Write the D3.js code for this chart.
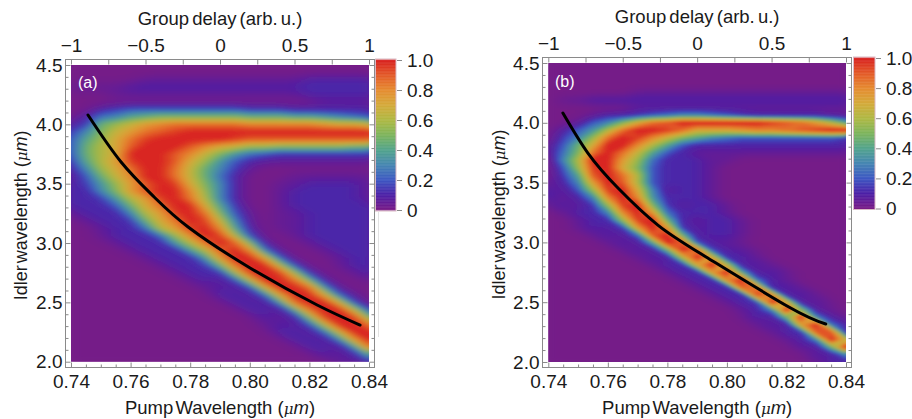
<!DOCTYPE html>
<html>
<head>
<meta charset="utf-8">
<script src="https://cdn.jsdelivr.net/npm/d3@7"></script>
<style>
  html, body { margin: 0; background: #fff; }
  text { font-family: "Liberation Sans", Arial, sans-serif; fill: #1a1a1a; }
</style>
</head>
<body>
<div id="wrapper"></div>
<script>
// tick values
const pumpTicks = [0.74, 0.76, 0.78, 0.80, 0.82, 0.84]
const pumpMinor = [0.745, 0.75, 0.755, 0.765, 0.77, 0.775, 0.785, 0.79, 0.795, 0.805, 0.81, 0.815, 0.825, 0.83, 0.835]
const idlerTicks = [2.0, 2.5, 3.0, 3.5, 4.0, 4.5]
const idlerMinor = [2.1, 2.2, 2.3, 2.4, 2.6, 2.7, 2.8, 2.9, 3.1, 3.2, 3.3, 3.4, 3.6, 3.7, 3.8, 3.9, 4.1, 4.2, 4.3, 4.4]
const delayTicks = [-1, -0.5, 0, 0.5, 1]
const delayMinor = [-0.75, -0.25, 0.25, 0.75]
const barTicks = [0, 0.2, 0.4, 0.6, 0.8, 1.0]

// colour bar stops, 0 to 1 in steps of 0.1
const rainbow = ["#7a1b85", "#4c1fa6", "#3d57c2", "#4585b2", "#52a38c", "#7cb45c", "#aeb843", "#d4aa3a", "#e58b30", "#e35a28", "#d8211f"]

// phase matching curves, pump (um) and idler (um)
const curvePumpA = [0.7457, 0.7568, 0.7679, 0.7793, 0.8001, 0.8226, 0.8370]
const curveIdlerA = [4.079, 3.683, 3.388, 3.135, 2.790, 2.478, 2.309]
const curvePumpB = [0.7449, 0.7533, 0.7634, 0.7768, 0.7930, 0.8208, 0.8332]
const curveIdlerB = [4.082, 3.747, 3.455, 3.145, 2.878, 2.460, 2.318]

// intensity, in tenths. rows run from idler 4.5 down to 2.0,
// columns from pump 0.74 to 0.84 in steps of 0.005
const heatA = [
  [0,0,0,0,0,0,0,0,0,0,0,0,0,0,0,0,0,0,0,0,0],
  [0,0,0,0,0,0,0,0,0,0,0,0,0,0,0,0,0,0,0,0,0],
  [0,0,0,0,0,.5,.5,.5,.5,.5,.5,.5,.5,.5,.5,.5,1,1,1,1,1],
  [.5,.5,.5,.5,1,1,1,1,1,1,1,1,1,1,1,1,1,1,1,1,1],
  [0,0,0,.5,.5,.5,.5,.5,.5,.5,.5,.5,.5,.5,.5,.5,1,1,1,1,1],
  [0,0,0,0,0,0,0,0,0,0,0,0,0,0,0,0,0,.5,.5,.5,.5],
  [0,0,1,1.5,2,2,2,2,2,2,2,2,1.5,1.5,1.5,1,1,1,1,1,1],
  [0,1,2.5,3,4,4.5,5,5,5,5,5,5,4.5,4.5,4.5,4,4,3.5,3,2.5,2],
  [1,1.5,4.5,5.5,6.5,7.5,8,8.5,8.5,8.5,8.5,8.5,8,8,8,8,8,7.5,7,7,6.5],
  [1.5,3,5,6.5,7.5,8.5,9,9.5,10,10,10,10,10,10,10,10,10,10,10,10,10],
  [2,4,5.5,7,8.5,9.5,10,10,10,10,10,9.5,9,9,9,9,9,9,9,9,9],
  [2,4.5,6,7,9,10,10,10,9,8,7,6.5,5.5,5.5,5,5,5,5,5,4.5,4.5],
  [2,4.5,6,7,10,10,10,9,8,6.5,5,3.5,2.5,2,1.5,1.5,1.5,1.5,1.5,1.5,1.5],
  [1.5,4,6,7.5,9.5,10,10,9,7,5.5,3.5,2,1,.5,.5,.5,.5,.5,.5,.5,.5],
  [1,3,5.5,7,8.5,10,10,8.5,6.5,4.5,3,1.5,.5,0,0,0,0,0,0,0,0],
  [.5,2,4.5,6.5,8,10,10,8.5,6.5,4.5,2.5,1,0,0,0,.5,.5,.5,.5,.5,.5],
  [1,1.5,3.5,5.5,7.5,9,10,9.5,7,5,3,1,0,0,.5,.5,1,1,1,1,.5],
  [1,1,3,5,7.5,9,10,10,8,5.5,3,1,0,0,.5,1,1,1,1,1,.5],
  [1,1,1.5,3.5,6,7.5,9.5,10,8.5,6,3,1,0,0,.5,1,1,1,1,1,.5],
  [1,1,1,2,4.5,7,8.5,10,10,7,4,1.5,0,0,.5,1,1,1,1,1,1],
  [.5,1,1,1,3,6,7.5,9.5,10,8.5,5,2,.5,0,.5,.5,1,1,1,1,1],
  [0,.5,1,1,1.5,4.5,7,8.5,10,9.5,6.5,3,.5,0,.5,.5,1,1,1,1,1],
  [0,0,.5,1,1,2.5,6,7.5,9.5,10,8,4,1,0,.5,.5,1,1,1,1,1],
  [0,0,.5,1,1,1,2.5,5.5,8,10,9.5,6,2,0,0,.5,1,1,1,1,1],
  [0,0,0,.5,1,1,1,3.5,6,8.5,10,9,5,1,0,0,.5,1,1,1,1],
  [0,0,0,0,.5,1,1,1,3.5,6,9,10,8,3,.5,0,0,.5,1,1,1],
  [0,0,0,0,0,.5,1,1,1,3.5,7.5,10,10,7,2.5,0,0,0,.5,1,1],
  [0,0,0,0,0,0,.5,1,1,1.5,4.5,8.5,10,10,6,2,0,0,.5,1,1],
  [0,0,0,0,0,0,0,.5,1,1,1.5,5.5,9.5,10,9.5,5.5,1.5,0,0,.5,1],
  [0,0,0,0,0,0,0,0,.5,1,.5,2,6,10,10,8.5,4.5,1,0,0,.5],
  [0,0,0,0,0,0,0,0,0,.5,1,.5,2,6.5,10,10,8.5,3.5,.5,0,0],
  [0,0,0,0,0,0,0,0,0,0,1,1,.5,2.5,7,10,10,7,2.5,.5,0],
  [0,0,0,0,0,0,0,0,0,0,0,1,1,.5,3.5,8.5,10,10,6.5,2,0],
  [0,0,0,0,0,0,0,0,0,0,0,0,1,1,.5,4,8.5,10,10,6,2],
  [0,0,0,0,0,0,0,0,0,0,0,0,0,1,.5,1,5,9.5,10,9.5,5],
  [0,0,0,0,0,0,0,0,0,0,0,0,0,.5,1,.5,2,6,10,10,8.5],
  [0,0,0,0,0,0,0,0,0,0,0,0,0,0,1,1,.5,2.5,6.5,10,10],
  [0,0,0,0,0,0,0,0,0,0,0,0,0,0,0,1,1,.5,3,7.5,10],
  [0,0,0,0,0,0,0,0,0,0,0,0,0,0,0,0,1,1,.5,3.5,8.5],
  [0,0,0,0,0,0,0,0,0,0,0,0,0,0,0,0,0,1,.5,1,4],
  [0,0,0,0,0,0,0,0,0,0,0,0,0,0,0,0,0,0,1,.5,1.5]
]

const heatB = [
  [0,0,0,0,0,0,0,0,0,0,0,0,0,0,0,0,0,0,0,0,0],
  [0,0,0,0,0,0,0,0,0,0,0,0,0,0,0,0,0,0,0,0,0],
  [0,0,0,0,0,0,0,0,0,0,0,0,0,0,0,0,0,0,0,0,0],
  [0,0,0,0,0,0,0,0,0,0,0,0,0,0,0,0,0,0,0,0,0],
  [0,0,0,0,0,0,.5,.5,.5,.5,.5,.5,.5,.5,.5,.5,.5,.5,.5,.5,.5],
  [0,.5,.5,1,1,1,1,1,1,1,1,1,1,1,1,1,1,1,1,1,1],
  [0,0,0,0,0,0,.5,.5,.5,.5,.5,.5,.5,.5,.5,.5,.5,.5,.5,.5,.5],
  [0,0,0,.5,1,1,1.5,2,2.5,3,3,2.5,2,1.5,1,1,1,1,1,.5,.5],
  [0,0,.5,2,3,5,7,8.5,9,10,10,10,10,10,10,9.5,9,8.5,7.5,6,4],
  [0,1,2,3.5,6,8.5,10,10,9.5,8.5,7,7,7,7.5,8,8,8.5,9,9.5,10,10],
  [0,1.5,3,5.5,8.5,10,9.5,8,6.5,5,4,3,2.5,2,2,2,2,2,2,2,1.5],
  [.5,2,4.5,7,10,10,8,6,4,2,1,1,1,1,1,1,1,1,1,1,1],
  [.5,2.5,5,8.5,10,8.5,6.5,4,2,1,.5,.5,.5,.5,.5,.5,.5,.5,.5,.5,.5],
  [0,3,6,10,10,7.5,5.5,2.5,1,1,1,.5,.5,0,0,0,0,0,0,0,0],
  [0,2,5.5,9.5,10,7,5,2,1,1,1,.5,0,0,0,0,0,0,0,0,0],
  [0,1.5,4,9,10,8.5,6,2,1,1,1,.5,0,0,0,0,0,0,0,0,0],
  [.5,1,3,7.5,10,9,6,2,1,1,1,.5,0,0,0,0,0,0,0,0,0],
  [1,.5,2,5.5,9.5,10,7,3,.5,1,1,.5,0,0,0,0,0,0,0,0,0],
  [1,.5,1,3,8,10,8,3.5,1,1,1,.5,0,0,0,0,0,0,0,0,0],
  [.5,1,.5,1.5,5.5,9.5,10,5,1.5,.5,1,1,.5,0,0,0,0,0,0,0,0],
  [0,.5,1,1,3,8,10,7.5,2.5,1,1,1,.5,0,0,0,0,0,0,0,0],
  [0,0,.5,1,1.2,5.5,9.5,10,4.5,1,.5,1,1,.5,0,0,0,0,0,0,0],
  [0,0,.5,1,.7,1.7,7.5,10,7.5,1.5,.7,1,1,.5,0,0,0,0,0,0,0],
  [0,0,0,.5,1,.5,2.5,9,10,4.5,.6,1,1,.5,0,0,0,0,0,0,0],
  [0,0,0,0,.5,1,.5,4,10,9,2,.7,.7,.3,0,0,0,0,0,0,0],
  [0,0,0,0,0,.5,1,.5,4.5,10,8.5,1.8,.8,.7,.3,0,0,0,0,0,0],
  [0,0,0,0,0,0,.5,1,.7,6,10,7,1.2,1,.5,0,0,0,0,0,0],
  [0,0,0,0,0,0,0,.5,1,1.2,7,10,6,.7,1,.5,0,0,0,0,0],
  [0,0,0,0,0,0,0,0,.5,1,1,7.5,10,4,.5,1,.5,0,0,0,0],
  [0,0,0,0,0,0,0,0,0,.5,1,1,8,10,2.5,.8,.5,0,0,0,0],
  [0,0,0,0,0,0,0,0,0,0,.5,1,1,9,8.5,.8,1,.5,0,0,0],
  [0,0,0,0,0,0,0,0,0,0,0,.5,1,1,9.5,8,.7,1,.5,0,0],
  [0,0,0,0,0,0,0,0,0,0,0,0,.5,1,1.6,10,7,.5,.8,.3,0],
  [0,0,0,0,0,0,0,0,0,0,0,0,0,.5,1,3,10,5,.6,.4,0],
  [0,0,0,0,0,0,0,0,0,0,0,0,0,.3,1,.5,4.5,10,3,.8,.4],
  [0,0,0,0,0,0,0,0,0,0,0,0,0,0,.5,1,.6,7.5,10,2.5,1],
  [0,0,0,0,0,0,0,0,0,0,0,0,0,0,0,.5,1,1.5,9,9,1.2],
  [0,0,0,0,0,0,0,0,0,0,0,0,0,0,0,0,.5,.8,3,10,6.5],
  [0,0,0,0,0,0,0,0,0,0,0,0,0,0,0,0,0,.8,.5,4.5,10],
  [0,0,0,0,0,0,0,0,0,0,0,0,0,0,0,0,0,0,1,.6,3],
  [0,0,0,0,0,0,0,0,0,0,0,0,0,0,0,0,0,0,.5,1,1]
]

// create chart dimensions
const dimensions = { width: 912, height: 419 }
const frameColor = "#8a8a8a"
const fontSize = 19

const colorScale = d3.scaleLinear()
  .domain(rainbow.map((c, i) => i / 10))
  .range(rainbow)
  .interpolate(d3.interpolateRgb)

// draw canvas
const wrapper = d3.select("#wrapper")
  .append("svg")
    .attr("width", dimensions.width)
    .attr("height", dimensions.height)

wrapper.append("line")
  .attr("x1", 378.5).attr("x2", 378.5)
  .attr("y1", 212).attr("y2", 337)
  .attr("stroke", "#e2e2e2")

function styleAxis(g) {
  g.select(".domain").remove()
  g.selectAll("line").attr("stroke", frameColor)
  g.selectAll("text").style("font-size", `${fontSize}px`)
}

function drawPanel(p) {
  const bounds = wrapper.append("g")

  // scales
  const pumpScale = d3.scaleLinear().domain([0.74, 0.84]).range(p.xRange)
  const idlerScale = d3.scaleLinear().domain([4.5, 2.0]).range(p.yRange)
  const delayScale = d3.scaleLinear().domain([-1, 1]).range(p.xRange)
  const barScale = d3.scaleLinear().domain([0, 1]).range(p.barY)

  // heat map, filled isolines of the grid
  const rows = p.heat.length
  const cols = p.heat[0].length
  const colX = d3.scaleLinear().domain([0.5, cols - 0.5]).range(p.xRange)
  const rowY = d3.scaleLinear().domain([0.5, rows - 0.5]).range(p.yRange)
  const gridPath = d3.geoPath(d3.geoTransform({
    point(x, y) { this.stream.point(colX(x), rowY(y)) }
  }))
  const step = 0.2
  const levels = d3.range(0, 10, step)
  const contours = d3.contours()
    .size([cols, rows])
    .smooth(true)
    .thresholds(levels)(p.heat.flat())

  // the faint levels get a wider blur than the band, their isolines are the blockiest
  const filters = [["soft", p.softBlur], ["sharp", p.blur]]
  filters.forEach(([name, std]) => {
    bounds.append("filter").attr("id", `${p.id}-${name}`)
      .attr("filterUnits", "userSpaceOnUse")
      .attr("x", p.xRange[0] - 40).attr("y", p.yRange[0] - 40)
      .attr("width", p.xRange[1] - p.xRange[0] + 80)
      .attr("height", p.yRange[1] - p.yRange[0] + 80)
      .append("feGaussianBlur").attr("stdDeviation", std)
  })

  bounds.append("clipPath").attr("id", p.id)
    .append("rect")
      .attr("x", p.xRange[0])
      .attr("y", p.yRange[0])
      .attr("width", p.xRange[1] - p.xRange[0])
      .attr("height", p.yRange[1] - p.yRange[0])

  const map = bounds.append("g").attr("clip-path", `url(#${p.id})`)
  map.append("rect")
    .attr("x", p.xRange[0])
    .attr("y", p.yRange[0])
    .attr("width", p.xRange[1] - p.xRange[0])
    .attr("height", p.yRange[1] - p.yRange[0])
    .attr("fill", colorScale(0))

  const drawLevels = (name, subset) => map.append("g")
    .attr("filter", `url(#${p.id}-${name})`)
    .selectAll("path")
    .data(subset)
    .enter().append("path")
      .attr("d", gridPath)
      .attr("fill", d => colorScale((d.value + step / 2) / 10))
      .attr("stroke", d => colorScale((d.value + step / 2) / 10))
      .attr("stroke-width", 0.4)
  drawLevels("soft", contours.filter(d => d.value < 1.4))
  drawLevels("sharp", contours.filter(d => d.value >= 1.4))

  // pump curve
  const curve = d3.line()
    .x(d => pumpScale(d[0]))
    .y(d => idlerScale(d[1]))
    .curve(d3.curveNatural)
  bounds.append("path")
    .attr("d", curve(d3.zip(p.curvePump, p.curveIdler)))
    .attr("fill", "none")
    .attr("stroke", "#000")
    .attr("stroke-width", 3)
    .attr("stroke-linecap", "round")

  // frame
  const [fx0, fx1] = p.frameX
  const [fy0, fy1] = p.frameY
  bounds.append("rect")
    .attr("x", fx0).attr("y", fy0)
    .attr("width", fx1 - fx0).attr("height", fy1 - fy0)
    .attr("fill", "none")
    .attr("stroke", frameColor)

  // axes, major and minor ticks point inward
  const pumpAxis = d3.axisBottom(pumpScale)
    .tickValues(pumpTicks).tickFormat(d3.format(".2f"))
    .tickSize(-5).tickPadding(7)
  bounds.append("g").attr("transform", `translate(0,${fy1})`).call(pumpAxis).call(styleAxis)
  bounds.append("g").attr("transform", `translate(0,${fy1})`)
    .call(d3.axisBottom(pumpScale).tickValues(pumpMinor).tickSize(-3).tickFormat(""))
    .call(styleAxis)

  const delayAxis = d3.axisTop(delayScale)
    .tickValues(delayTicks).tickFormat(d3.format("~g"))
    .tickSize(-5).tickPadding(8)
  bounds.append("g").attr("transform", `translate(0,${fy0})`).call(delayAxis).call(styleAxis)
  bounds.append("g").attr("transform", `translate(0,${fy0})`)
    .call(d3.axisTop(delayScale).tickValues(delayMinor).tickSize(-5).tickFormat(""))
    .call(styleAxis)

  const idlerAxis = d3.axisLeft(idlerScale)
    .tickValues(idlerTicks).tickFormat(d3.format(".1f"))
    .tickSize(-5).tickPadding(3)
  bounds.append("g").attr("transform", `translate(${fx0},0)`).call(idlerAxis).call(styleAxis)
  bounds.append("g").attr("transform", `translate(${fx0},0)`)
    .call(d3.axisLeft(idlerScale).tickValues(idlerMinor).tickSize(-3).tickFormat(""))
    .call(styleAxis)
  bounds.append("g").attr("transform", `translate(${fx1},0)`)
    .call(d3.axisRight(idlerScale).tickValues(idlerTicks).tickSize(-5).tickFormat(""))
    .call(styleAxis)
  bounds.append("g").attr("transform", `translate(${fx1},0)`)
    .call(d3.axisRight(idlerScale).tickValues(idlerMinor).tickSize(-3).tickFormat(""))
    .call(styleAxis)

  // colour bar
  const barSteps = d3.range(0, 1.0001, 0.005)
  bounds.selectAll(".bar")
    .data(barSteps)
    .enter().append("rect")
      .attr("class", "bar")
      .attr("x", p.barX[0])
      .attr("y", d => barScale(d) - 0.6)
      .attr("width", p.barX[1] - p.barX[0])
      .attr("height", 1.2)
      .attr("fill", d => colorScale(d))
  bounds.append("rect")
    .attr("x", p.barX[0])
    .attr("y", p.barY[1] - 1)
    .attr("width", p.barX[1] - p.barX[0])
    .attr("height", p.barY[0] - p.barY[1] + 2)
    .attr("fill", "none")
    .attr("stroke", "#d9b9c4")
  const barAxis = d3.axisRight(barScale)
    .tickValues(barTicks)
    .tickFormat(d => d === 0 ? "0" : d3.format(".1f")(d))
    .tickSize(5).tickPadding(5)
  bounds.append("g").attr("transform", `translate(${p.barX[1] + 1},0)`).call(barAxis).call(styleAxis)

  // labels
  const xCenter = (p.xRange[0] + p.xRange[1]) / 2
  bounds.append("text")
    .attr("x", xCenter).attr("y", p.titleY)
    .attr("text-anchor", "middle")
    .style("font-size", "18.5px")
    .style("word-spacing", "-2px")
    .text("Group delay (arb. u.)")
  const xLabel = bounds.append("text")
    .attr("x", xCenter).attr("y", 414)
    .attr("text-anchor", "middle")
    .style("font-size", "18.5px")
  xLabel.append("tspan").style("word-spacing", "-3px").text("Pump Wavelength")
  xLabel.append("tspan").text(" (")
  xLabel.append("tspan").style("font-style", "italic").style("font-family", "'DejaVu Serif', serif").style("font-size", "15px").text("μ")
  xLabel.append("tspan").style("font-style", "italic").text("m")
  xLabel.append("tspan").text(")")
  const yLabel = bounds.append("text")
    .attr("transform", `translate(${p.yLabelX},${(p.yRange[0] + p.yRange[1]) / 2 + 2}) rotate(-90)`)
    .attr("text-anchor", "middle")
    .style("font-size", "18px")
  yLabel.append("tspan").style("word-spacing", "-3px").text("Idler wavelength")
  yLabel.append("tspan").text(" (")
  yLabel.append("tspan").style("font-style", "italic").style("font-family", "'DejaVu Serif', serif").style("font-size", "15px").text("μ")
  yLabel.append("tspan").style("font-style", "italic").text("m")
  yLabel.append("tspan").text(")")
  bounds.append("text")
    .attr("x", p.tagAt[0]).attr("y", p.tagAt[1])
    .style("font-size", "16px")
    .style("fill", "#fff")
    .text(p.tag)
}

drawPanel({
  id: "clipA", tag: "(a)", tagAt: [78, 88], blur: "4 2", softBlur: "8 4",
  heat: heatA, curvePump: curvePumpA, curveIdler: curveIdlerA,
  xRange: [71, 369], yRange: [65, 361.7],
  frameX: [65.5, 374.5], frameY: [59.5, 367.5],
  barX: [375.5, 396], barY: [210, 60],
  titleY: 25, yLabelX: 27
})

drawPanel({
  id: "clipB", tag: "(b)", tagAt: [555, 87], blur: "2.5 1.5", softBlur: "7 3",
  heat: heatB, curvePump: curvePumpB, curveIdler: curveIdlerB,
  xRange: [548.3, 846], yRange: [63, 362],
  frameX: [542.5, 851.5], frameY: [57.5, 367.5],
  barX: [853.5, 875], barY: [208.5, 58],
  titleY: 23, yLabelX: 505
})
</script>
</body>
</html>
